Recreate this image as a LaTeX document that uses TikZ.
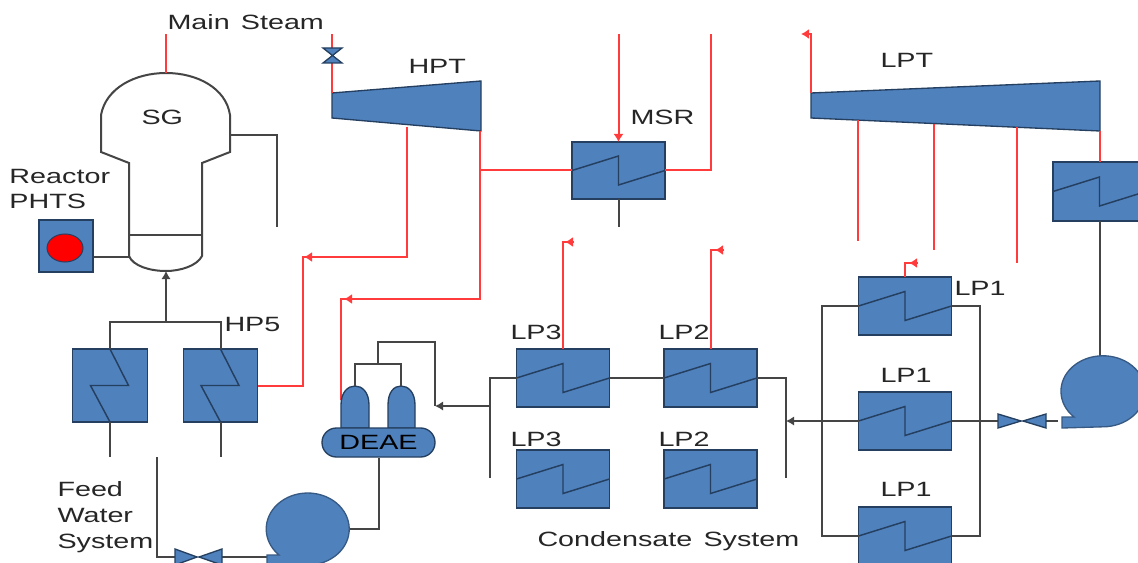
\documentclass[tikz,border=0pt]{standalone}
\usepackage{fontspec}
\setmainfont[FakeStretch=1.39,WordSpace=1.4]{Liberation Sans}
\usetikzlibrary{arrows.meta,shapes.geometric}
\definecolor{unitblue}{HTML}{4F81BD}
\definecolor{unitedge}{HTML}{243F60}
\definecolor{steamred}{HTML}{FF3B3B}
\definecolor{waterline}{HTML}{454545}
\tikzset{every picture/.style={line width=0.75pt},
	unit/.style={draw=unitedge,fill=unitblue,line width=1pt},
	heater/.style={unit,inner sep=0pt,outer sep=0pt,minimum width=69.75pt,minimum height=43.5pt},
	hpheater/.style={unit,inner sep=0pt,outer sep=0pt,minimum width=55.9pt,minimum height=54.75pt},
	zig/.style={draw=unitedge,line width=1.1pt},
	water/.style={draw=waterline,line width=1.5pt},
	steam/.style={draw=steamred,line width=1.5pt},
	wateredge/.style={water,-{Latex[length=6pt,width=7pt]}},
	steamedge/.style={steam,-{Latex[length=6pt,width=7.5pt]}},
	txt/.style={anchor=west,inner sep=0pt,font=\fontsize{15.5}{19}\selectfont,text=black!85},
}
\newcommand{\zigLP}[1]{\draw[zig] (#1.west) -- ++(46.5,-14.5) -- ++(0,29) -- (#1.east);}
\newcommand{\zigHP}[1]{\draw[zig] (#1.north) -- ++(18.5,36.5) -- ++(-38,0) -- (#1.south);}

\begin{document}
\begin{tikzpicture}[x=0.75pt,y=0.75pt,yscale=-1,xscale=1]
	\clip (0,0) rectangle (1138,563);
	\fill[white] (0,0) rectangle (1138,563);

	%Free ends and junctions
	\coordinate (mainTop) at (166,34);
	\coordinate (sgTop) at (166,73);
	\coordinate (sgBottom) at (166,271);
	\coordinate (sgOut) at (230,135);
	\coordinate (sgOutEnd) at (277,227);
	\coordinate (reactorIn) at (129,257);
	\coordinate (hpHeader) at (166,322);
	\coordinate (hpRise) at (166,300);
	\coordinate (hpaEnd) at (110,457);
	\coordinate (hpbEnd) at (220.5,457);
	\coordinate (feedTop) at (157,457);
	\coordinate (hptInlet) at (332,93);
	\coordinate (hptTop) at (332,34);
	\coordinate (hptBleed) at (407,127);
	\coordinate (hptExhaust) at (480,131);
	\coordinate (hptTee) at (480,170.5);
	\coordinate (msrSteamTop) at (618.5,34);
	\coordinate (msrOutTop) at (711,34);
	\coordinate (msrDrain) at (618.5,227);
	\coordinate (lptInlet) at (811,93);
	\coordinate (lptExhaust) at (1099.5,131);

	%Reactor and steam generator
	\node (reactorBox) [unit,inner sep=0pt,minimum width=40.5pt,minimum height=39pt] at (66,246) {};
	\node (reactorCore) [ellipse,draw=unitedge,fill=red,inner sep=0pt,minimum width=27pt,minimum height=21pt] at (65,248) {};
	\draw [water] (101,115) .. controls (106,88) and (135,73) .. (166,73) .. controls (197,73) and (226,88) .. (230,115) -- (230,152) -- (202,163) -- (202,256) .. controls (197,266) and (180,271) .. (166,271) .. controls (150,271) and (133,266) .. (129,256) -- (129,163) -- (101,152) -- cycle;
	\draw [water] (129,235) -- (202,235);
	\draw [water] (sgOut) -| (sgOutEnd);
	\draw [water] (reactorBox.east |- reactorIn) -- (reactorIn);
	\draw [steam] (mainTop) -- (sgTop);
	\draw [wateredge] (hpRise) -- (sgBottom);

	%HP heaters
	\node (hpHeaterA) [hpheater] at (110,385.5) {};
	\node (hpHeaterB) [hpheater] at (220.5,385.5) {};
	\zigHP{hpHeaterA}
	\zigHP{hpHeaterB}
	\draw [water] (hpRise) -- (hpHeader);
	\draw [water] (hpHeaterA.north) |- (hpHeader) -| (hpHeaterB.north);
	\draw [water] (hpHeaterA.south) -- (hpaEnd);
	\draw [water] (hpHeaterB.south) -- (hpbEnd);

	%Turbines
	\draw [unit] (332,93) -- (481,81) -- (481,131) -- (332,118) -- cycle;
	\draw [unit] (811,93) -- (1100,81) -- (1100,131) -- (811,118) -- cycle;
	\draw [steam] (hptTop) -- (hptInlet);
	\draw [unit] (323,48) -- (342,48) -- (323,63) -- (342,63) -- cycle;

	%Heaters
	\node (msrBox) [heater,minimum height=42.75pt] at (618.5,170.5) {};
	\node (lpThreeA) [heater] at (563,378) {};
	\node (lpTwoA) [heater] at (710.5,378) {};
	\node (lpThreeB) [heater] at (563,479) {};
	\node (lpTwoB) [heater] at (710.5,479) {};
	\node (lpOneA) [heater] at (905,306) {};
	\node (lpOneB) [heater] at (905,421) {};
	\node (lpOneC) [heater] at (905,536) {};
	\node (condBox) [heater,minimum height=44.25pt] at (1099.5,191.5) {};
	\foreach \n in {msrBox,lpThreeA,lpTwoA,lpThreeB,lpTwoB,lpOneA,lpOneB,lpOneC,condBox} {\zigLP{\n}}

	%Steam lines
	\draw [steam] (hptBleed) |- (303,257) |- (hpHeaterB.east);
	\draw [steam,line width=2.2pt] (hptBleed) -- (407,257);
	\draw [steamedge] (313,257) -- (304,257);
	\draw [steam] (hptExhaust) |- (341,299) -- (341,400);
	\draw [steam,line width=2.2pt] (hptExhaust) -- (480,299);
	\draw [steamedge] (354,299) -- (344,299);
	\draw [steam] (hptTee) -- (msrBox.west);
	\draw [steam] (msrBox.east) -| (msrOutTop);
	\draw [steamedge] (msrSteamTop) -- (msrBox.north);
	\draw [water] (msrBox.south) -- (msrDrain);
	\draw [steam] (lpThreeA.north) |- (569,242);
	\draw [steamedge] (574,242) -- (565,242);
	\draw [steam] (lpTwoA.north) |- (718,250);
	\draw [steamedge] (724,250) -- (715,250);
	\draw [steam] (lptInlet) |- (806,34);
	\draw [steamedge] (810,34) -- (801,34);
	\draw [steam] (lpOneA.north) |- (912,263);
	\draw [steamedge] (918,263) -- (909,263);
	\draw [steam] (858,120) -- (858,241);
	\draw [steam] (934,124) -- (934,250);
	\draw [steam] (1017,127) -- (1017,263);
	\draw [steam] (lptExhaust) -- (condBox.north);

	%Deaerator
	\draw [unit] (341,428) -- (341,405) .. controls (341,392) and (348,386) .. (355,386) .. controls (362,386) and (369,392) .. (369,405) -- (369,428) -- cycle;
	\draw [unit] (388,428) -- (388,405) .. controls (388,392) and (394,386) .. (401,386) .. controls (408,386) and (415,392) .. (415,405) -- (415,428) -- cycle;
	\node (deaeBox) [unit,inner sep=0pt,minimum width=84.75pt,minimum height=21.75pt,rounded corners=10.8pt,font=\fontsize{15.5}{19}\selectfont] at (378.5,442.5) {DEAE};
	\draw [water] (355,386) |- (401,364) -- (401,386);
	\draw [water] (378,364) |- (435,342) -- (435,406);
	\draw [wateredge] (490,406) -- (435,406);

	%Condensate lines
	\draw [water] (490,478) |- (lpThreeA.west);
	\draw [water] (lpThreeA.east) -- (lpTwoA.west);
	\draw [water] (lpTwoA.east) -| (786,478);
	\draw [wateredge] (lpOneB.west) -- (786,421);
	\draw [water] (lpOneA.west) -| (822,536) -- (lpOneC.west);
	\draw [water] (lpOneA.east) -| (980,536) -- (lpOneC.east);
	\draw [water] (lpOneB.east) -- (998,421);
	\draw [water] (1046,421) -- (1058,421);
	\draw [water] (condBox.south) -- (1099.5,357);

	%Condensate valve and pump
	\draw [unit] (998,414) -- (1021,421) -- (998,428) -- cycle;
	\draw [unit] (1046,414) -- (1023,421) -- (1046,428) -- cycle;
	\draw [unit,draw=unitblue!70!black] (1062,417) -- (1074,417) arc [x radius=42,y radius=35.5,start angle=133.6,delta angle=316.4] -- (1062,428) -- cycle;

	%Feed valve and pump
	\draw [water] (feedTop) |- (175,557);
	\draw [water] (222,557) -- (267,557);
	\draw [unit] (175,549) -- (197,557) -- (175,565) -- cycle;
	\draw [unit] (222,549) -- (199,557) -- (222,565) -- cycle;
	\draw [unit,draw=unitblue!70!black] (267,555) -- (279,555) arc [x radius=41.5,y radius=36,start angle=133.8,delta angle=316.2] -- (267,565) -- cycle;
	\draw [water] (350,529) -| (deaeBox.south);

	% Text Node
	\node (lblMain) [txt] at (167,22) {Main Steam};
	\node (lblSG) [txt] at (141,117) {SG};
	\node (lblReactor) [txt,align=left] at (9,189) {Reactor\\PHTS};
	\node (lblHPFive) [txt] at (224,324.5) {HP5};
	\node (lblHPT) [txt] at (408,66.5) {HPT};
	\node (lblMSR) [txt] at (630,117.5) {MSR};
	\node (lblLPT) [txt] at (880,60.5) {LPT};
	\node (lblLPOneA) [txt] at (954,288.5) {LP1};
	\node (lblLPOneB) [txt] at (880,375.5) {LP1};
	\node (lblLPOneC) [txt] at (880,489.5) {LP1};
	\node (lblLPThreeA) [txt] at (510,332.5) {LP3};
	\node (lblLPTwoA) [txt] at (658,332.5) {LP2};
	\node (lblLPThreeB) [txt] at (510,439.5) {LP3};
	\node (lblLPTwoB) [txt] at (658,439.5) {LP2};
	\node (lblCond) [txt] at (537,541) {Condensate System};
	\node (lblFeed) [txt,align=left,font=\fontsize{15.5}{19.5}\selectfont] at (57,517) {Feed\\Water\\System};
\end{tikzpicture}
\end{document}
